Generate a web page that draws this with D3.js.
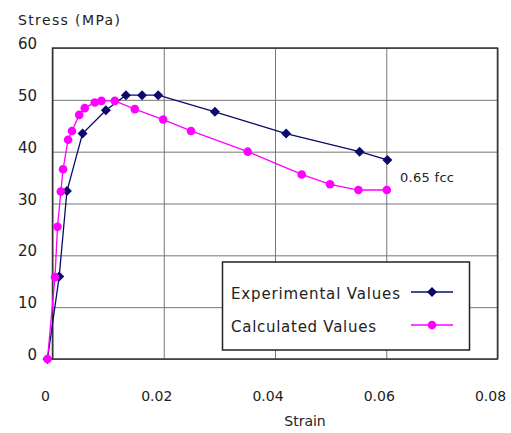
<!DOCTYPE html>
<html>
<head>
<meta charset="utf-8">
<script src="https://cdn.jsdelivr.net/npm/d3@7"></script>
<style>
  body { margin: 0; background: #fff; }
  svg text { font-family: "DejaVu Sans", sans-serif; fill: #222; }
</style>
</head>
<body>
<div class="chart"></div>
<script>
// data
var expStrain = [-0.0009, 0.0012, 0.0026, 0.0054, 0.0096, 0.0132, 0.0161, 0.0190, 0.0292, 0.0420, 0.0552, 0.0602]
var expStress = [0, 15.9, 32.4, 43.5, 48.0, 50.9, 50.9, 50.9, 47.7, 43.5, 40.0, 38.4]

var calStrain = [-0.0009, 0.00045, 0.0009, 0.0015, 0.0019, 0.0028, 0.0035, 0.0048, 0.0058, 0.0076, 0.0088, 0.0112, 0.0148, 0.0199, 0.0249, 0.0351, 0.0448, 0.0499, 0.0550, 0.0601]
var calStress = [0, 15.8, 25.5, 32.3, 36.6, 42.3, 44.0, 47.1, 48.4, 49.5, 49.8, 49.8, 48.2, 46.2, 44.0, 40.0, 35.6, 33.7, 32.6, 32.6]

var xTicks = [0, 0.02, 0.04, 0.06, 0.08]
var yTicks = [0, 10, 20, 30, 40, 50, 60]
var legendNames = ["Experimental Values", "Calculated Values"]

let svg = d3.select('div.chart').append('svg').attr('width', 511).attr('height', 433)

let x = d3.scaleLinear().domain([0, 0.08]).range([52.5, 497.5])
let y = d3.scaleLinear().domain([0, 60]).range([359, 48])

//grid
svg.append('g')
  .attr('transform', 'translate(0,359)')
  .call(d3.axisBottom(x).tickValues(xTicks).tickSize(-311).tickFormat(''))
  .call(g => g.select('.domain').remove())
  .call(g => g.selectAll('line').attr('stroke', '#777').attr('stroke-width', 1))

svg.append('g')
  .attr('transform', 'translate(52.5,0)')
  .call(d3.axisLeft(y).tickValues(yTicks).tickSize(-445).tickFormat(''))
  .call(g => g.select('.domain').remove())
  .call(g => g.selectAll('line').attr('stroke', '#777').attr('stroke-width', 1))

//box
svg.append('rect')
  .attr('x', 52.5).attr('y', 48).attr('width', 445).attr('height', 311)
  .attr('fill', 'none').attr('stroke', '#333').attr('stroke-width', 1.5)

//tick labels
svg.append('g').selectAll('text')
  .data(xTicks).enter().append('text')
  .attr('x', d => x(d) - 7)
  .attr('y', 401)
  .attr('text-anchor', 'middle')
  .style('font-size', '14px')
  .text(d => d === 0 ? '0' : d.toFixed(2))

svg.append('g').selectAll('text')
  .data(yTicks).enter().append('text')
  .attr('x', 37)
  .attr('y', d => y(d) + 1)
  .attr('text-anchor', 'end')
  .style('font-size', '15px')
  .text(d => d)

svg.append('text').attr('x', 18).attr('y', 25).style('font-size', '14px')
  .attr('textLength', 102).text('Stress (MPa)')
svg.append('text').attr('x', 305).attr('y', 426).attr('text-anchor', 'middle')
  .style('font-size', '14px').text('Strain')
svg.append('text').attr('x', 400).attr('y', 182).style('font-size', '13px')
  .attr('textLength', 54).text('0.65 fcc')

//lines
let expData = expStrain.map((d, i) => [d, expStress[i]])
let calData = calStrain.map((d, i) => [d, calStress[i]])
let line = d3.line().x(d => x(d[0])).y(d => y(d[1]))

let diamond = d3.symbol().type(d3.symbolSquare).size(50)

svg.append('path').datum(expData).attr('d', line)
  .attr('fill', 'none').attr('stroke', '#0a0a6a').attr('stroke-width', 1.3)
svg.append('g').selectAll('path')
  .data(expData).enter().append('path')
  .attr('d', diamond)
  .attr('transform', d => 'translate(' + x(d[0]) + ',' + y(d[1]) + ') rotate(45)')
  .attr('fill', '#0a0a6a')

svg.append('path').datum(calData).attr('d', line)
  .attr('fill', 'none').attr('stroke', '#ff00ff').attr('stroke-width', 1.3)
svg.append('g').selectAll('circle')
  .data(calData).enter().append('circle')
  .attr('cx', d => x(d[0])).attr('cy', d => y(d[1])).attr('r', 4.3)
  .attr('fill', '#ff00ff')

//legend
svg.append('rect')
  .attr('x', 222.5).attr('y', 262).attr('width', 247).attr('height', 88)
  .attr('fill', '#fff').attr('stroke', '#222').attr('stroke-width', 1.5)

let legColors = ['#0a0a6a', '#ff00ff']
legendNames.forEach((name, i) => {
  let ly = 292 + i * 33
  svg.append('text').attr('x', 231).attr('y', ly + 7).style('font-size', '15px')
    .attr('textLength', i === 0 ? 169 : 145).text(name)
  svg.append('line').attr('x1', 411).attr('x2', 453).attr('y1', ly).attr('y2', ly)
    .attr('stroke', legColors[i]).attr('stroke-width', 1.3)
  if (i === 0) {
    svg.append('path').attr('d', diamond).attr('transform', 'translate(432,' + ly + ') rotate(45)').attr('fill', legColors[i])
  } else {
    svg.append('circle').attr('cx', 432).attr('cy', ly).attr('r', 4.3).attr('fill', legColors[i])
  }
})
</script>
</body>
</html>
